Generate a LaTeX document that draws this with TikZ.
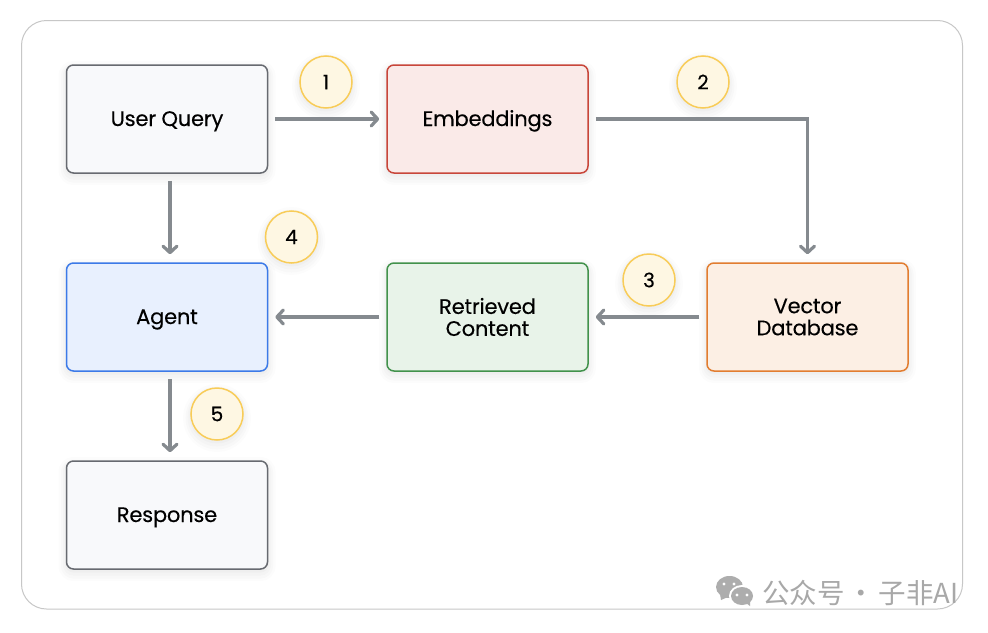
\documentclass[tikz,border=0pt]{standalone}
\usepackage{fontspec}
\setmainfont{Poppins}[FakeBold=0.25]
\newfontfamily\cjk{Noto Sans CJK SC}
\usetikzlibrary{arrows.meta,calc}
\definecolor{arrowgray}{HTML}{858A8F}
\definecolor{badgeline}{HTML}{F8CC58}
\definecolor{badgefill}{HTML}{FEF7E3}
\definecolor{neutralline}{HTML}{676A70}
\definecolor{neutralfill}{HTML}{F8F9FB}
\newcommand\dn[1]{\raisebox{-2pt}[15pt][5pt]{#1}}
\tikzset{
  x=1pt,y=-1pt,
  soft/.style={
    preaction={draw=black,draw opacity=.012,line width=16pt,transform canvas={yshift=-4pt}},
    preaction={draw=black,draw opacity=.014,line width=11pt,transform canvas={yshift=-4pt}},
    preaction={draw=black,draw opacity=.016,line width=7pt,transform canvas={yshift=-3pt}},
    preaction={draw=black,draw opacity=.018,line width=3pt,transform canvas={yshift=-2pt}}},
  box/.style={soft,rectangle,rounded corners=7pt,line width=1.5pt,minimum width=201pt,minimum height=108pt,
    inner sep=0pt,align=center,font=\fontsize{21}{22}\selectfont\addfontfeatures{LetterSpace=-1}},
  badge/.style={soft,circle,draw=badgeline,fill=badgefill,line width=1.5pt,minimum size=52pt,inner sep=0pt,
    font=\fontsize{20}{20}\selectfont},
  link/.style={draw=arrowgray,line width=3.2pt,-{Straight Barb[length=6.5pt,width=14pt,round]},line join=miter},
}
\begin{document}
\begin{tikzpicture}
\useasboundingbox (0,0) rectangle (988,632);
\fill[white] (0,0) rectangle (988,632);
\draw[draw=black!22,line width=1pt,rounded corners=25pt] (21.5,20.5) rectangle (962.5,609);
\node[box,draw=neutralline,fill=neutralfill] (uq) at (167,119) {\dn{User Query}};
\node[box,draw={rgb,255:red,200;green,70;blue,58},fill={rgb,255:red,250;green,234;blue,232}] (emb) at (487.5,119) {\dn{Embeddings}};
\node[box,draw={rgb,255:red,60;green,122;blue,232},fill={rgb,255:red,232;green,240;blue,254}] (agent) at (167,317) {\dn{Agent}};
\node[box,draw={rgb,255:red,66;green,146;blue,76},fill={rgb,255:red,232;green,243;blue,233}] (ret) at (487.5,317) {Retrieved\\Content};
\node[box,draw={rgb,255:red,226;green,125;blue,48},fill={rgb,255:red,252;green,239;blue,228}] (vec) at (807.5,317) {Vector\\Database};
\node[box,draw=neutralline,fill=neutralfill] (resp) at (167,515) {\dn{Response}};
\node[badge] (b1) at (326,82) {1};
\node[badge] (b2) at (703,82) {2};
\node[badge] (b3) at (649,280) {3};
\node[badge] (b4) at (291.5,237) {4};
\node[badge] (b5) at (217,414) {5};
\draw[link,shorten <=7pt,shorten >=7pt] (uq.east) -- (emb.west);
\draw[link,shorten <=7pt] (emb.east) -| ([yshift=8pt]vec.north);
\draw[link,shorten <=7pt,shorten >=7pt] (vec.west) -- (ret.east);
\draw[link,shorten <=7pt,shorten >=7pt] (ret.west) -- (agent.east);
\draw[link,shorten <=7pt,shorten >=8pt] ([xshift=3pt]uq.south) -- ([xshift=3pt]agent.north);
\draw[link,shorten <=7pt,shorten >=8pt] ([xshift=3pt]agent.south) -- ([xshift=3pt]resp.north);
% watermark
\fill[black!32] (729.5,587) ellipse (13.5pt and 11pt);
\fill[black!32] (720,594) -- (721,600) -- (728,597) -- cycle;
\fill[white] (742,596) ellipse (13pt and 11pt);
\fill[black!32] (742,596) ellipse (11pt and 9pt);
\fill[black!32] (746,603) -- (750,606) -- (750,600) -- cycle;
\foreach \p in {(724,584),(734,584)} \fill[white] \p circle (1.7pt);
\foreach \p in {(737,595),(747,595)} \fill[white] \p circle (1.6pt);
\node[text=black!34,inner sep=0pt,anchor=west,font=\cjk\fontsize{27.5}{28}\selectfont] (wm) at (762,593) {公众号\hspace{-3pt} · \hspace{-3pt}子非AI};
\end{tikzpicture}
\end{document}
